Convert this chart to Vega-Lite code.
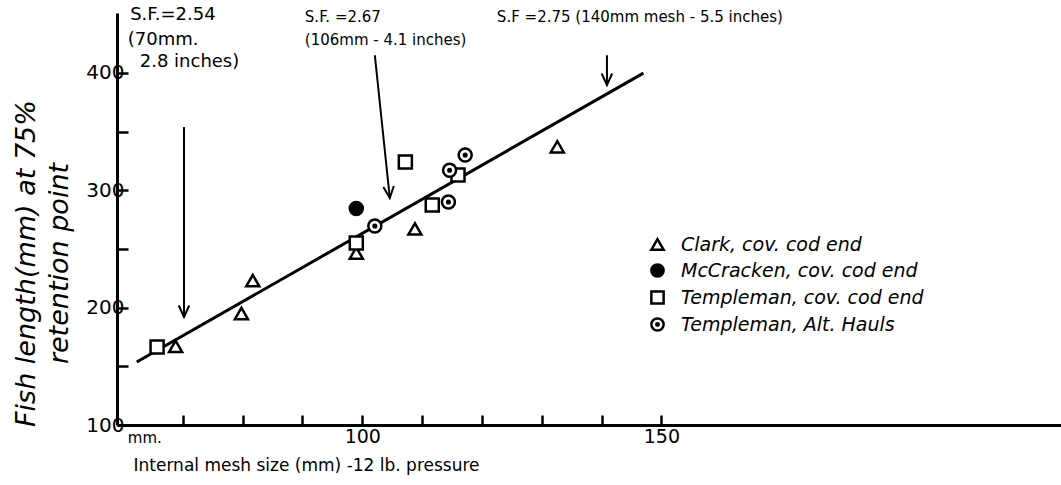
{
  "$schema": "https://vega.github.io/schema/vega-lite/v6.json",
  "width": 944,
  "height": 412,
  "autosize": "none",
  "padding": {"left": 117, "top": 13, "right": 0, "bottom": 60},
  "background": "white",
  "config": {"view": {"stroke": null}, "font": "DejaVu Sans"},
  "datasets": {
    "points": [
      {"x": 68.8, "y": 167, "series": "Clark, cov. cod end"},
      {"x": 79.8, "y": 195, "series": "Clark, cov. cod end"},
      {"x": 81.7, "y": 223, "series": "Clark, cov. cod end"},
      {"x": 108.8, "y": 267, "series": "Clark, cov. cod end"},
      {"x": 132.6, "y": 337, "series": "Clark, cov. cod end"},
      {"x": 99, "y": 246.5, "series": "Clark, cov. cod end"},
      {"x": 99, "y": 284.5, "series": "McCracken, cov. cod end"},
      {"x": 65.7, "y": 166.4, "series": "Templeman, cov. cod end"},
      {"x": 107.2, "y": 324, "series": "Templeman, cov. cod end"},
      {"x": 111.7, "y": 287.4, "series": "Templeman, cov. cod end"},
      {"x": 99, "y": 255, "series": "Templeman, cov. cod end"},
      {"x": 116, "y": 313, "series": "Templeman, cov. cod end"},
      {"x": 117.2, "y": 330, "series": "Templeman, Alt. Hauls"},
      {"x": 114.4, "y": 290, "series": "Templeman, Alt. Hauls"},
      {"x": 102.1, "y": 269.5, "series": "Templeman, Alt. Hauls"},
      {"x": 114.6, "y": 317, "series": "Templeman, Alt. Hauls"}
    ],
    "fit": [
      {"x": 62.3, "y": 153.7},
      {"x": 147, "y": 399.8}
    ],
    "arrows": [
      {"id": 1, "x": 70.2, "y": 353.8, "x2": 70.2, "y2": 192},
      {"id": 2, "x": 102.1, "y": 415, "x2": 104.6, "y2": 293.4},
      {"id": 3, "x": 140.9, "y": 415, "x2": 140.9, "y2": 389.6}
    ],
    "notes1": [
      {"x": 61.2, "y": 449, "text": "S.F.=2.54"},
      {"x": 60.8, "y": 428, "text": "(70mm."},
      {"x": 62.8, "y": 409, "text": "2.8 inches)"}
    ],
    "notes2": [
      {"x": 90.4, "y": 447.5, "text": "S.F. =2.67"},
      {"x": 90.4, "y": 428, "text": "(106mm - 4.1 inches)"},
      {"x": 122.5, "y": 447.5, "text": "S.F =2.75 (140mm mesh - 5.5 inches)"}
    ],
    "unit": [
      {"x": 60.8, "y": 89, "text": "mm."}
    ]
  },
  "encoding": {
    "x": {
      "field": "x",
      "type": "quantitative",
      "scale": {"domain": [59, 216.8], "nice": false, "zero": false},
      "axis": {
        "values": [70, 80, 90, 100, 110, 120, 130, 140, 150],
        "labelExpr": "datum.value % 50 === 0 ? datum.label : ''",
        "ticks": true,
        "tickSize": -10,
        "tickWidth": 2.5,
        "tickOpacity": 1,
        "tickColor": "black",
        "domainColor": "black",
        "domainWidth": 3,
        "grid": false,
        "labelFontSize": 19,
        "labelColor": "black",
        "labelPadding": 12,
        "title": "Internal mesh size (mm) -12 lb. pressure",
        "titleFontSize": 17,
        "titleFontWeight": "normal",
        "titleColor": "black",
        "titleAnchor": "start",
        "titleAlign": "left",
        "titleX": 16,
        "titleY": 40,
        "titleBaseline": "middle"
      }
    },
    "y": {
      "field": "y",
      "type": "quantitative",
      "scale": {"domain": [100, 451], "nice": false, "zero": false},
      "axis": {
        "values": [100, 150, 200, 250, 300, 350, 400],
        "labelExpr": "datum.value % 100 === 0 ? datum.label : ''",
        "tickSize": -11,
        "tickWidth": 2.5,
        "tickColor": "black",
        "domainColor": "black",
        "domainWidth": 3,
        "grid": false,
        "labelFontSize": 20,
        "labelColor": "black",
        "labelPadding": 4,
        "title": ["Fish length(mm) at 75%", "retention point"],
        "titleFontSize": 27,
        "titleFontStyle": "italic",
        "titleFontWeight": "normal",
        "titleColor": "black",
        "titleAngle": 270,
        "titleAlign": "center",
        "titleBaseline": "top",
        "titleLineHeight": 33,
        "titleX": -104,
        "titleY": 250
      }
    }
  },
  "layer": [
    {
      "mark": {"type": "rule", "color": "black", "strokeWidth": 2.5},
      "encoding": {
        "x": {"datum": 59, "type": "quantitative"},
        "x2": {"datum": 216.8},
        "y": {"datum": 451, "type": "quantitative"}
      }
    },
    {
      "data": {"name": "fit"},
      "mark": {"type": "line", "color": "black", "strokeWidth": 3}
    },
    {
      "data": {"name": "arrows"},
      "mark": {"type": "rule", "color": "black", "strokeWidth": 2},
      "encoding": {
        "x2": {"field": "x2"},
        "y2": {"field": "y2"}
      }
    },
    {
      "data": {"name": "arrows"},
      "transform": [{"filter": "datum.id !== 2"}],
      "mark": {"type": "point", "shape": "M-1,-2.2L0,0L1,-2.2", "filled": false, "stroke": "black", "strokeWidth": 2, "size": 110, "opacity": 1},
      "encoding": {
        "x": {"field": "x2", "type": "quantitative"},
        "y": {"field": "y2", "type": "quantitative"}
      }
    },
    {
      "data": {"name": "arrows"},
      "transform": [{"filter": "datum.id === 2"}],
      "mark": {"type": "point", "shape": "M-1,-2.2L0,0L1,-2.2", "filled": false, "stroke": "black", "strokeWidth": 2, "size": 110, "opacity": 1, "angle": -6},
      "encoding": {
        "x": {"field": "x2", "type": "quantitative"},
        "y": {"field": "y2", "type": "quantitative"}
      }
    },
    {
      "data": {"name": "points"},
      "transform": [{"filter": "datum.series !== 'McCracken, cov. cod end'"}],
      "mark": {"type": "point", "filled": true, "fill": "white", "stroke": "black", "strokeWidth": 2.5, "size": 170, "opacity": 1},
      "encoding": {
        "shape": {
          "field": "series",
          "type": "nominal",
          "scale": {
            "domain": ["Clark, cov. cod end", "McCracken, cov. cod end", "Templeman, cov. cod end", "Templeman, Alt. Hauls"],
            "range": ["triangle-up", "circle", "square", "M-1,0A1,1 0 1,0 1,0A1,1 0 1,0 -1,0ZM-0.2,0A0.2,0.2 0 1,0 0.2,0A0.2,0.2 0 1,0 -0.2,0Z"]
          },
          "legend": {
            "title": null, "orient": "none", "legendX": 531, "legendY": 222,
            "labelFontSize": 19, "labelFontStyle": "italic", "labelColor": "black", "labelLimit": 400,
            "symbolSize": 150, "symbolStrokeWidth": 2.5, "symbolStrokeColor": "black", "symbolFillColor": "white",
            "rowPadding": 4, "labelOffset": 14,
            "encoding": {"symbols": {
              "stroke": {"value": "black"},
              "strokeWidth": {"value": 2.5},
              "opacity": {"value": 1},
              "fill": {"condition": {"test": "datum.value === 'McCracken, cov. cod end'", "value": "black"}, "value": "white"}
            }}
          }
        }
      }
    },
    {
      "data": {"name": "points"},
      "transform": [{"filter": "datum.series === 'McCracken, cov. cod end'"}],
      "mark": {"type": "point", "filled": true, "fill": "black", "stroke": "black", "strokeWidth": 2.5, "size": 170, "opacity": 1},
      "encoding": {
        "shape": {"field": "series", "type": "nominal"}
      }
    },
    {
      "data": {"name": "notes1"},
      "mark": {"type": "text", "align": "left", "baseline": "middle", "fontSize": 18, "color": "black"},
      "encoding": {"text": {"field": "text"}}
    },
    {
      "data": {"name": "notes2"},
      "mark": {"type": "text", "align": "left", "baseline": "middle", "fontSize": 15, "color": "black"},
      "encoding": {"text": {"field": "text"}}
    },
    {
      "data": {"name": "unit"},
      "mark": {"type": "text", "align": "left", "baseline": "middle", "fontSize": 15, "color": "black"},
      "encoding": {"text": {"field": "text"}}
    }
  ]
}
